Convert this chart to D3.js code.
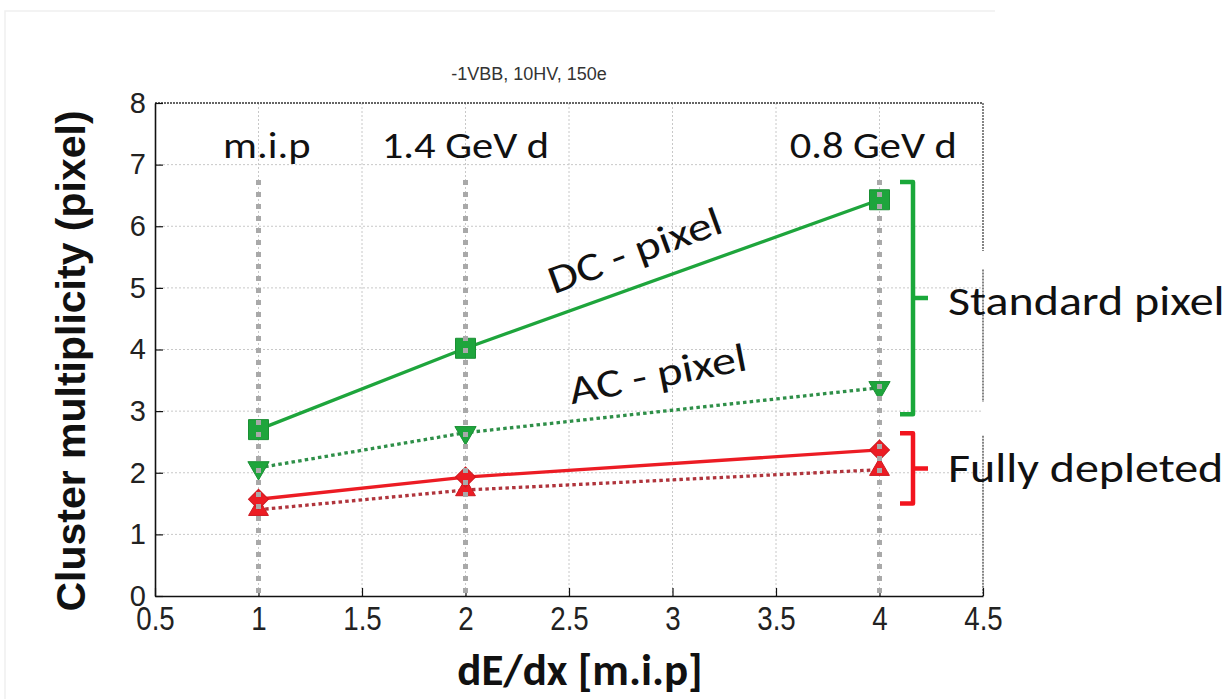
<!DOCTYPE html>
<html>
<head>
<meta charset="utf-8">
<script src="https://cdn.jsdelivr.net/npm/d3@7"></script>
<style>
  body { margin: 0; background: #fff; }
</style>
</head>
<body>
<div id="chart"></div>
<script>
// data
const xValues = [1, 2, 4];
const dcPixel = [2.70, 4.02, 6.43];
const acPixel = [2.08, 2.65, 3.38];
const fdSolid = [1.57, 1.93, 2.37];
const fdDotted = [1.40, 1.72, 2.05];
const xTicks = [0.5, 1, 1.5, 2, 2.5, 3, 3.5, 4, 4.5];
const yTicks = [0, 1, 2, 3, 4, 5, 6, 7, 8];
const energyLabels = ['m.i.p', '1.4 GeV d', '0.8 GeV d'];
const energyLabelX = [1.04, 2, 3.97];

const width = 1230, height = 699;
const green = '#1ea53c', greenDot = '#2e8f48', red = '#ec1c24', redDot = '#b0343c';
const annoFont = 'Carlito, Lato, "Open Sans", sans-serif';

const svg = d3.select('#chart').append('svg')
    .attr('width', width)
    .attr('height', height)
    .attr('xmlns', 'http://www.w3.org/2000/svg');

const x = d3.scaleLinear().domain([0.5, 4.5]).range([155, 983]);
const y = d3.scaleLinear().domain([0, 8]).range([596, 103]);

// faint frame of the pasted image
svg.append('path')
    .attr('d', 'M5,699 V11 H995')
    .attr('fill', 'none')
    .attr('stroke', '#f0f0f0')
    .attr('stroke-width', 1.5);

// grid
svg.append('g').selectAll('line')
    .data(yTicks.slice(1, -1))
    .join('line')
    .attr('x1', x(0.5)).attr('x2', x(4.5))
    .attr('y1', d => y(d)).attr('y2', d => y(d))
    .attr('stroke', '#c8c8c8').attr('stroke-width', 1)
    .attr('stroke-dasharray', '2,2');
svg.append('g').selectAll('line')
    .data(xTicks.slice(1, -1))
    .join('line')
    .attr('x1', d => x(d)).attr('x2', d => x(d))
    .attr('y1', y(8)).attr('y2', y(0))
    .attr('stroke', '#c8c8c8').attr('stroke-width', 1)
    .attr('stroke-dasharray', '2,2');

// top and right frame (dotted, right one broken)
svg.append('line')
    .attr('x1', x(0.5)).attr('x2', x(4.5))
    .attr('y1', y(8)).attr('y2', y(8))
    .attr('stroke', '#333').attr('stroke-width', 1.3)
    .attr('stroke-dasharray', '2,1');
[[8, 5.6], [5.3, 3.15], [2.6, 0]].forEach(([a, b]) => {
  svg.append('line')
      .attr('x1', x(4.5)).attr('x2', x(4.5))
      .attr('y1', y(a)).attr('y2', y(b))
      .attr('stroke', '#444').attr('stroke-width', 1.3)
      .attr('stroke-dasharray', '2,1');
});

// axes
const xAxis = svg.append('g')
    .attr('transform', `translate(0,${y(0)})`)
    .call(d3.axisBottom(x).tickValues(xTicks).tickSizeInner(-8).tickSizeOuter(0).tickPadding(11)
      .tickFormat(d3.format('')));
xAxis.select('.domain').attr('stroke', '#111').attr('stroke-width', 1.6);
xAxis.selectAll('.tick line').attr('stroke', '#111').attr('stroke-width', 1.2);
xAxis.selectAll('.tick text')
    .attr('font-family', '"Liberation Sans", Arial, sans-serif')
    .attr('font-size', 33)
    .attr('transform', 'scale(0.84,1)')
    .attr('fill', '#222');

const yAxis = svg.append('g')
    .attr('transform', `translate(${x(0.5)},0)`)
    .call(d3.axisLeft(y).tickValues(yTicks).tickSizeInner(-8).tickSizeOuter(0).tickPadding(9));
yAxis.select('.domain').attr('stroke', '#111').attr('stroke-width', 1.6);
yAxis.selectAll('.tick line').attr('stroke', '#111').attr('stroke-width', 1.2);
yAxis.selectAll('.tick text')
    .attr('font-family', '"Liberation Sans", Arial, sans-serif')
    .attr('font-size', 29)
    .attr('fill', '#222');

// series
const series = [
  { values: fdDotted, line: redDot, fill: red, dash: '3.5,3.2', symbol: d3.symbolTriangle, rot: 0, size: 170 },
  { values: fdSolid, line: red, fill: red, dash: null, symbol: d3.symbolSquare, rot: 45, size: 200 },
  { values: acPixel, line: greenDot, fill: green, dash: '3.5,3.2', symbol: d3.symbolTriangle, rot: 180, size: 195 },
  { values: dcPixel, line: green, fill: green, dash: null, symbol: d3.symbolSquare, rot: 0, size: 400 }
];
const line = d3.line().x((d, i) => x(xValues[i])).y(d => y(d));
series.forEach(s => {
  svg.append('path')
      .datum(s.values)
      .attr('d', line)
      .attr('fill', 'none')
      .attr('stroke', s.line)
      .attr('stroke-width', 3.3)
      .attr('stroke-dasharray', s.dash);
  svg.append('g').selectAll('path')
      .data(s.values)
      .join('path')
      .attr('d', d3.symbol().type(s.symbol).size(s.size))
      .attr('transform', (d, i) => `translate(${x(xValues[i])},${y(d)}) rotate(${s.rot})`)
      .attr('fill', s.fill)
      .attr('stroke', d3.color(s.fill).darker(0.4))
      .attr('stroke-width', 1);
});

// gray dotted verticals at the three energies (drawn over markers)
svg.append('g').selectAll('line')
    .data(xValues)
    .join('line')
    .attr('x1', d => x(d)).attr('x2', d => x(d))
    .attr('y1', y(6.75)).attr('y2', y(0))
    .attr('stroke', '#a9a9a9').attr('stroke-width', 5)
    .attr('stroke-dasharray', '5,7');

// energy labels
svg.append('g').selectAll('text')
    .data(energyLabels)
    .join('text')
    .attr('transform', (d, i) => `translate(${x(energyLabelX[i])},${y(7.1)}) scale(1.18,1)`)
    .attr('text-anchor', 'middle')
    .attr('font-family', annoFont)
    .attr('font-size', 36)
    .attr('fill', '#111')
    .text(d => d);

// series labels along the lines
svg.append('text')
    .attr('transform', `translate(${x(2.84)},${y(5.4)}) rotate(-20) scale(1.2,1)`)
    .attr('text-anchor', 'middle')
    .attr('font-family', annoFont).attr('font-size', 40).attr('fill', '#111')
    .text('DC - pixel');
svg.append('text')
    .attr('transform', `translate(${x(2.94)},${y(3.39)}) rotate(-11) scale(1.2,1)`)
    .attr('text-anchor', 'middle')
    .attr('font-family', annoFont).attr('font-size', 40).attr('fill', '#111')
    .text('AC - pixel');

// brackets
function bracket(top, bottom, color) {
  const x0 = 900, x1 = 913, x2 = 928;
  const yt = y(top), yb = y(bottom), ym = (yt + yb) / 2;
  svg.append('path')
      .attr('d', `M${x0},${yt} H${x1} V${yb} H${x0} M${x1},${ym} H${x2}`)
      .attr('fill', 'none')
      .attr('stroke', color)
      .attr('stroke-width', 4.5)
      .attr('stroke-linejoin', 'round');
  return ym;
}
const ymStd = bracket(6.72, 2.95, '#1aa83a');
const ymFd = bracket(2.64, 1.5, '#f2141e');
svg.append('text')
    .attr('transform', `translate(948,${ymStd + 17}) scale(1.17,1)`)
    .attr('font-family', annoFont).attr('font-size', 41).attr('fill', '#111')
    .text('Standard pixel');
svg.append('text')
    .attr('transform', `translate(948,${ymFd + 14}) scale(1.17,1)`)
    .attr('font-family', annoFont).attr('font-size', 41).attr('fill', '#111')
    .text('Fully depleted');

// title
svg.append('text')
    .attr('x', 529).attr('y', 80)
    .attr('text-anchor', 'middle')
    .attr('font-family', '"Liberation Sans", Arial, sans-serif')
    .attr('font-size', 18)
    .attr('fill', '#333')
    .text('-1VBB, 10HV, 150e');

// axis titles
svg.append('text')
    .attr('transform', `translate(85,361) rotate(-90)`)
    .attr('text-anchor', 'middle')
    .attr('font-family', '"Liberation Sans", Arial, sans-serif')
    .attr('font-weight', 'bold')
    .attr('font-size', 41)
    .attr('fill', '#111')
    .text('Cluster multiplicity (pixel)');
svg.append('text')
    .attr('x', 580).attr('y', 685)
    .attr('text-anchor', 'middle')
    .attr('font-family', annoFont)
    .attr('font-weight', 'bold')
    .attr('font-size', 45)
    .attr('fill', '#111')
    .text('dE/dx [m.i.p]');
</script>
</body>
</html>
